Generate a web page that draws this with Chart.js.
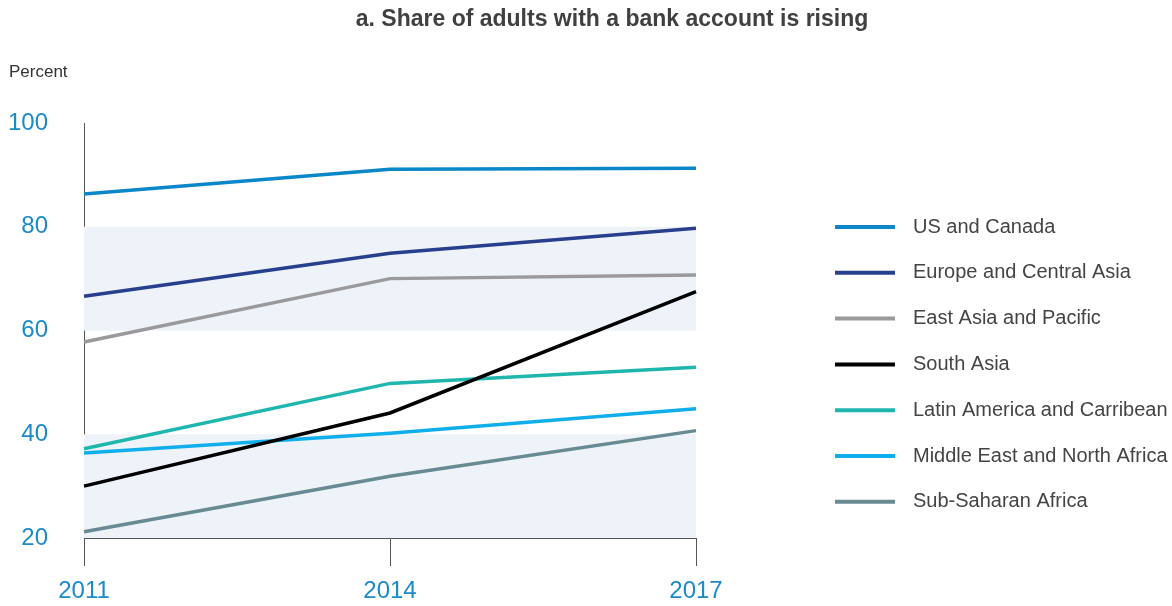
<!DOCTYPE html>
<html lang="en">
<head>
    <meta charset="UTF-8">
    <title>Share of adults with a bank account is rising</title>
    <script src="https://cdn.jsdelivr.net/npm/chart.js"></script>
    <style>
        * { margin: 0; padding: 0; box-sizing: border-box; }
        body { background: #fff; width: 1172px; height: 606px; overflow: hidden; }
        #chart { display: block; }
    </style>
</head>
<body>
    <canvas id="chart" width="1172" height="606"></canvas>

    <script>
        // data
        const years = ['2011', '2014', '2017'];
        const regions = ['US and Canada', 'Europe and Central Asia', 'East Asia and Pacific', 'South Asia',
            'Latin America and Carribean', 'Middle East and North Africa', 'Sub-Saharan Africa'];
        const usCanada = [86.3, 91.1, 91.3];
        const europeCentralAsia = [66.6, 74.9, 79.7];
        const eastAsiaPacific = [57.8, 70.0, 70.7];
        const southAsia = [30.0, 44.1, 67.5];
        const latinAmerica = [37.2, 49.8, 52.9];
        const middleEastNorthAfrica = [36.4, 40.2, 44.9];
        const subSaharanAfrica = [21.2, 31.9, 40.7];
        const yTicks = [20, 40, 60, 80, 100];
        const bands = [[60, 80], [20, 40]];

        const seriesValues = [usCanada, europeCentralAsia, eastAsiaPacific, southAsia,
            latinAmerica, middleEastNorthAfrica, subSaharanAfrica];
        const colors = ['#0a87c9', '#283f8e', '#9a9a9c', '#000000', '#1fb6ae', '#10aeea', '#678a93'];

        const FONT = 'Arial, "Liberation Sans", sans-serif';

        // shaded bands behind the lines
        const bandPlugin = {
            id: 'bands',
            beforeDatasetsDraw(chart) {
                const { ctx, chartArea, scales: { y } } = chart;
                ctx.save();
                ctx.fillStyle = '#eef3fa';
                bands.forEach(([lo, hi]) => {
                    const top = y.getPixelForValue(hi);
                    const bottom = y.getPixelForValue(lo);
                    ctx.fillRect(chartArea.left, top, chartArea.right - chartArea.left, bottom - top);
                });
                ctx.restore();
            }
        };

        // title, unit label and the legend on the right
        const textPlugin = {
            id: 'texts',
            afterDraw(chart) {
                const { ctx } = chart;
                ctx.save();
                ctx.fillStyle = '#404040';
                ctx.font = 'bold 23px ' + FONT;
                ctx.textAlign = 'center';
                ctx.textBaseline = 'middle';
                ctx.fillText('a. Share of adults with a bank account is rising', 612, 20);

                ctx.fillStyle = '#333';
                ctx.font = '17px ' + FONT;
                ctx.textAlign = 'left';
                ctx.fillText('Percent', 9, 72);

                ctx.font = '20px ' + FONT;
                chart.data.datasets.forEach((ds, i) => {
                    const cy = 227 + i * 45.8;
                    ctx.strokeStyle = ds.borderColor;
                    ctx.lineWidth = 4;
                    ctx.beginPath();
                    ctx.moveTo(835, cy);
                    ctx.lineTo(895, cy);
                    ctx.stroke();
                    ctx.fillStyle = '#444';
                    ctx.fillText(ds.label, 913, cy);
                });
                ctx.restore();
            }
        };

        new Chart(document.getElementById('chart').getContext('2d'), {
            type: 'line',
            data: {
                labels: years,
                datasets: regions.map((name, i) => ({
                    label: name,
                    data: seriesValues[i],
                    borderColor: colors[i],
                    backgroundColor: colors[i],
                    borderWidth: 3.5,
                    pointRadius: 0,
                    tension: 0,
                    fill: false
                }))
            },
            options: {
                responsive: false,
                animation: false,
                layout: { padding: { top: 123, right: 476, bottom: 0, left: 0 } },
                plugins: {
                    legend: { display: false },
                    title: { display: false },
                    tooltip: { enabled: false }
                },
                scales: {
                    x: {
                        offset: false,
                        grid: { display: true, drawOnChartArea: false, drawTicks: true, tickLength: 28, color: '#555', lineWidth: 1 },
                        border: { display: true, color: '#555', width: 1 },
                        ticks: { color: '#1a8ac8', font: { size: 24, family: FONT }, padding: 11, maxRotation: 0 },
                        afterFit(scale) { scale.height = 606 - 538; }
                    },
                    y: {
                        min: 20,
                        max: 100,
                        afterBuildTicks(scale) { scale.ticks = yTicks.map(v => ({ value: v })); },
                        grid: { display: true, drawOnChartArea: false, drawTicks: false },
                        border: { display: true, color: '#555', width: 1 },
                        ticks: { color: '#1a8ac8', font: { size: 24, family: FONT }, padding: 36 },
                        afterFit(scale) { scale.width = 84; }
                    }
                }
            },
            plugins: [bandPlugin, textPlugin]
        });
    </script>
</body>
</html>
